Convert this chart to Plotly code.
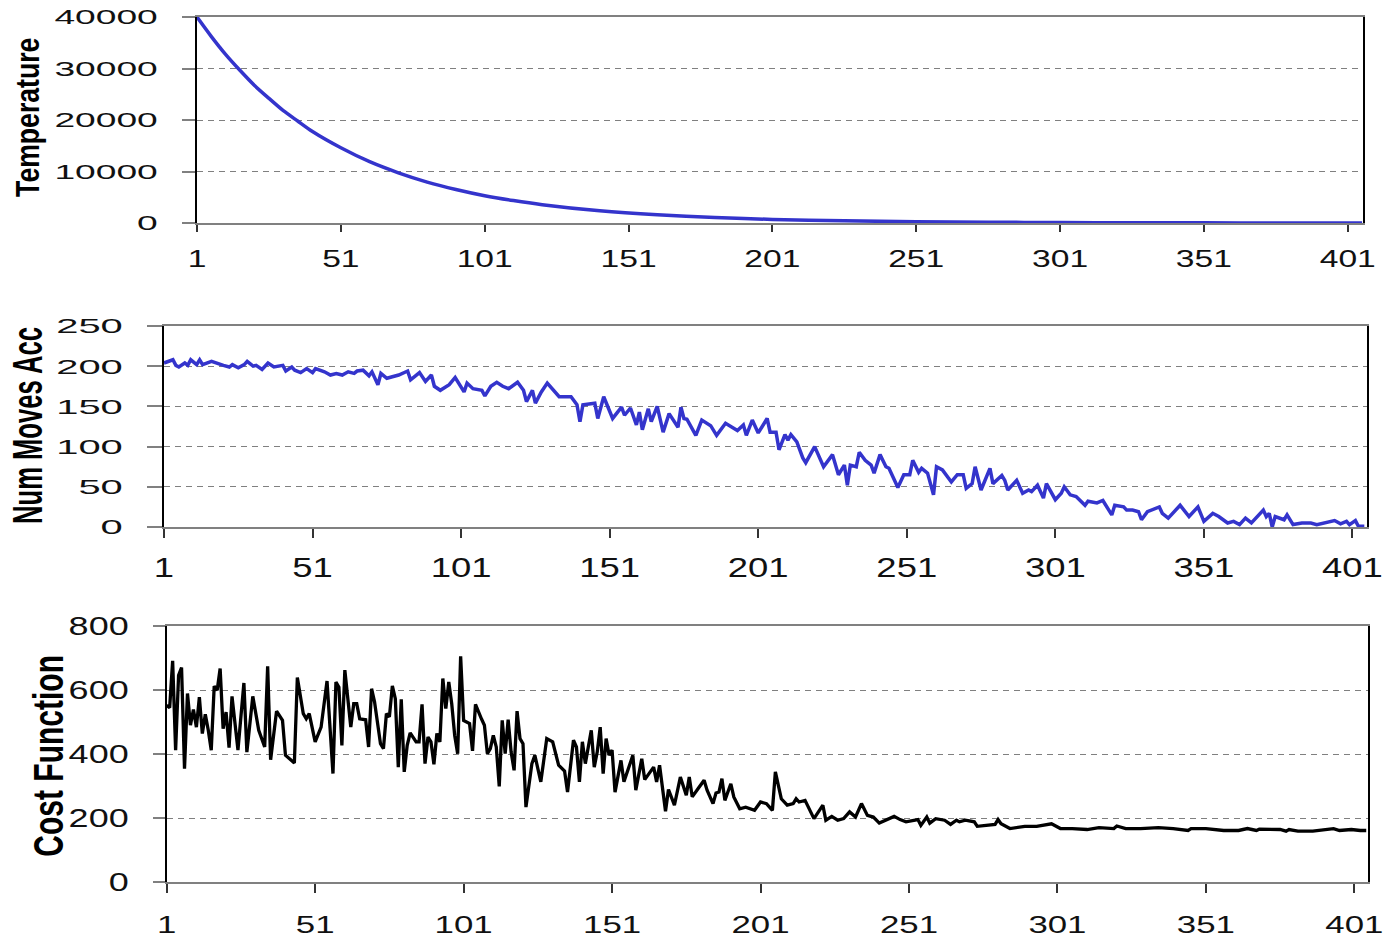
import plotly.graph_objects as go

# ---------------- data ----------------
TICK_VALS = [1, 51, 101, 151, 201, 251, 301, 351, 401]
TICK_LABELS = ["1", "51", "101", "151", "201", "251", "301", "351", "401"]

temp_iter = [1, 6, 11, 16, 21, 26, 31, 36, 41, 51, 61, 71, 81, 91, 101, 111, 121,
             141, 161, 181, 201, 226, 251, 276, 301, 326, 351, 376, 406]
temperature = [40000, 36200, 32700, 29600, 26700, 24200, 21800, 19800, 17800, 14600,
               11900, 9750, 7950, 6500, 5300, 4350, 3550, 2360, 1580, 1050, 700, 420,
               250, 150, 90, 55, 30, 20, 10]

moves_iter = [1, 4, 5, 6, 8, 9, 10, 12, 13, 14, 17, 19, 21, 23, 24, 26, 28, 29, 31, 32,
              34, 36, 38, 41, 42, 44, 45, 47, 49, 51, 52, 55, 57, 59, 61, 63, 65, 66, 68, 70,
              71, 73, 74, 76, 80, 83, 84, 87, 89, 91, 92, 94, 97, 99, 101, 102, 103, 105, 108, 109,
              111, 113, 115, 117, 120, 122, 123, 125, 126, 128, 130, 132, 134, 138, 140, 141, 142, 146, 147, 149,
              152, 155, 156, 158, 160, 161, 162, 164, 165, 167, 169, 171, 174, 175, 176, 177, 180, 182, 185, 187,
              190, 194, 196, 197, 199, 201, 204, 205, 207, 208, 210, 211, 212, 214, 216, 217, 219, 220, 223, 226,
              228, 230, 231, 232, 234, 235, 237, 239, 240, 242, 244, 245, 248, 250, 252, 253, 255, 256, 258, 260,
              261, 263, 266, 268, 270, 271, 273, 274, 276, 279, 280, 283, 284, 285, 288, 290, 292, 293, 295, 297,
              298, 301, 303, 304, 306, 308, 311, 312, 315, 317, 320, 321, 324, 325, 327, 329, 330, 332, 336, 337,
              339, 340, 343, 346, 349, 351, 354, 356, 359, 361, 363, 365, 367, 371, 372, 373, 374, 375, 378, 379,
              381, 384, 387, 389, 391, 395, 397, 399, 400, 402, 403, 405]
moves_acc = [204, 208, 201, 199, 204, 201, 208, 202, 208, 202, 206, 203, 201, 199, 202, 198, 202, 206, 200, 201,
             196, 204, 199, 201, 194, 199, 195, 192, 197, 192, 197, 193, 189, 191, 189, 193, 191, 194, 195, 188,
             193, 177, 191, 185, 189, 194, 183, 192, 181, 189, 175, 170, 177, 186, 175, 168, 179, 172, 170, 163,
             175, 180, 175, 172, 180, 170, 156, 170, 154, 168, 179, 170, 162, 162, 152, 131, 152, 154, 135, 162,
             135, 149, 139, 148, 127, 143, 121, 147, 131, 150, 118, 141, 124, 149, 135, 134, 114, 133, 126, 114,
             129, 120, 127, 114, 133, 117, 135, 118, 118, 96, 115, 108, 115, 106, 86, 80, 92, 100, 75, 90,
             65, 77, 52, 77, 75, 93, 83, 77, 67, 90, 75, 73, 49, 65, 65, 83, 68, 73, 67, 40,
             75, 71, 56, 65, 65, 48, 54, 75, 46, 73, 54, 64, 58, 46, 58, 42, 46, 44, 52, 36,
             54, 34, 42, 50, 40, 38, 27, 32, 30, 33, 15, 27, 25, 21, 21, 19, 9, 19, 25, 17,
             11, 15, 27, 13, 25, 7, 17, 13, 5, 7, 3, 11, 5, 21, 13, 17, 0, 13, 9, 15,
             3, 5, 5, 3, 5, 8, 4, 7, 3, 8, 1, 1]

cost_iter = [1, 2, 3, 4, 5, 6, 7, 8, 9, 10, 11, 12, 13, 14, 15, 16, 17, 18, 19, 20,
             21, 22, 23, 25, 27, 28, 30, 32, 34, 35, 36, 38, 40, 41, 44, 45, 47, 48, 49, 51,
             53, 55, 57, 58, 59, 60, 61, 63, 64, 65, 66, 68, 69, 70, 71, 73, 74, 75, 76, 77,
             78, 79, 80, 81, 82, 83, 85, 86, 87, 88, 89, 90, 91, 92, 93, 94, 95, 96, 97, 98,
             99, 100, 101, 103, 104, 105, 107, 108, 109, 110, 111, 112, 113, 114, 115, 116, 117, 118, 119, 120,
             121, 122, 124, 125, 127, 129, 131, 133, 135, 136, 138, 139, 140, 141, 142, 144, 145, 146, 147, 148,
             149, 150, 151, 152, 154, 155, 158, 159, 161, 162, 165, 166, 167, 169, 170, 172, 174, 176, 177, 178,
             180, 182, 183, 185, 186, 187, 188, 189, 191, 192, 194, 196, 199, 201, 203, 205, 206, 208, 210, 212,
             213, 214, 216, 219, 222, 223, 225, 227, 229, 231, 233, 235, 237, 239, 241, 244, 246, 248, 250, 254,
             255, 257, 258, 260, 263, 265, 267, 268, 270, 273, 274, 277, 280, 281, 282, 285, 290, 294, 299, 302,
             306, 311, 315, 320, 321, 324, 329, 335, 340, 345, 346, 351, 357, 362, 365, 368, 369, 376, 378, 379,
             382, 387, 394, 396, 400, 403, 405]
cost = [552, 545, 691, 412, 646, 670, 354, 589, 490, 539, 484, 578, 464, 524, 474, 412, 612, 599, 667, 479,
        531, 420, 580, 412, 622, 406, 580, 474, 422, 674, 382, 534, 505, 396, 372, 639, 526, 510, 526, 438,
        484, 628, 339, 625, 609, 427, 662, 484, 557, 557, 510, 507, 422, 604, 563, 432, 417, 526, 516, 613,
        573, 359, 571, 344, 427, 466, 438, 438, 555, 370, 453, 438, 368, 464, 438, 636, 542, 625, 557, 458,
        401, 705, 505, 495, 410, 555, 510, 490, 401, 417, 458, 422, 299, 505, 401, 507, 406, 349, 534, 448,
        432, 234, 370, 396, 313, 448, 438, 365, 347, 281, 443, 422, 313, 438, 370, 474, 359, 406, 484, 339,
        448, 396, 412, 281, 380, 313, 396, 287, 385, 320, 359, 313, 365, 221, 289, 240, 328, 271, 328, 266,
        292, 318, 287, 245, 278, 281, 323, 255, 307, 266, 229, 234, 224, 250, 245, 224, 344, 260, 240, 245,
        260, 250, 255, 198, 240, 193, 205, 193, 198, 219, 203, 245, 208, 203, 184, 195, 205, 195, 188, 195,
        177, 203, 184, 198, 193, 180, 193, 188, 193, 188, 174, 177, 180, 195, 182, 167, 174, 174, 182, 167,
        167, 164, 170, 167, 175, 167, 167, 170, 167, 161, 167, 167, 161, 161, 167, 161, 165, 164, 159, 164,
        159, 159, 167, 161, 164, 161, 161]

# ---------------- figure ----------------
W, H = 1384, 938
BLUE = "#3434CC"
GRID = "#808080"
FONT = "Liberation Sans, Arial, sans-serif"


def px_x(v):
    return v / W


def px_y(v):
    return 1 - v / H


fig = go.Figure()
fig.add_trace(go.Scatter(x=temp_iter, y=temperature, mode="lines", xaxis="x", yaxis="y",
                         line=dict(color=BLUE, width=3.5, shape="spline", smoothing=0.6),
                         showlegend=False, hoverinfo="skip"))
fig.add_trace(go.Scatter(x=moves_iter, y=moves_acc, mode="lines", xaxis="x2", yaxis="y2",
                         line=dict(color=BLUE, width=3.5), showlegend=False, hoverinfo="skip"))
fig.add_trace(go.Scatter(x=cost_iter, y=cost, mode="lines", xaxis="x3", yaxis="y3",
                         line=dict(color="#000000", width=3.3), showlegend=False, hoverinfo="skip"))


def xaxis(dom, anchor, font_size, ticklen, standoff, rng):
    return dict(domain=dom, anchor=anchor, range=rng, tickmode="array",
                tickvals=TICK_VALS, ticktext=TICK_LABELS, ticks="outside", ticklen=ticklen,
                tickwidth=1.5, tickcolor="#333333", showgrid=False, zeroline=False,
                showline=True, linecolor=GRID, linewidth=2, mirror=True,
                tickfont=dict(family=FONT, size=font_size, color="#111111"),
                ticklabelstandoff=standoff)


def yaxis(dom, anchor, rng, dtick, font_size, ticklen, standoff):
    return dict(domain=dom, anchor=anchor, range=rng, dtick=dtick, tick0=0, tickformat="d",
                ticks="outside", ticklen=ticklen, tickwidth=1.5, tickcolor=GRID,
                showgrid=True, gridcolor=GRID, gridwidth=1, griddash="6px,5px",
                zeroline=False, showline=True, linecolor="#000000", linewidth=2, mirror=True,
                tickfont=dict(family=FONT, size=font_size, color="#111111"),
                ticklabelstandoff=standoff)


fig.update_layout(
    width=W, height=H, margin=dict(l=0, r=0, t=0, b=0),
    paper_bgcolor="white", plot_bgcolor="white", template="none",
    xaxis=xaxis([px_x(197), px_x(1362.7)], "y", 24, 7, 6, [1, 406.2]),
    yaxis=yaxis([px_y(223), px_y(17)], "x", [0, 40000], 10000, 21, 13, 20),
    xaxis2=xaxis([px_x(164), px_x(1366.7)], "y2", 27, 9, 7, [1, 405.8]),
    yaxis2=yaxis([px_y(527), px_y(326)], "x2", [0, 250], 50, 21, 15, 20),
    xaxis3=xaxis([px_x(166.7), px_x(1368.3)], "y3", 24, 9, 11, [1, 405.7]),
    yaxis3=yaxis([px_y(882), px_y(626)], "x3", [0, 800], 200, 25, 12, 19),
    annotations=[
        dict(text="Temperature", x=px_x(28), y=px_y(118), xref="paper", yref="paper",
             xanchor="center", yanchor="middle", textangle=-90, showarrow=False,
             font=dict(family=FONT, size=33, color="#000000", weight="bold")),
        dict(text="Num Moves Acc", x=px_x(27), y=px_y(426), xref="paper", yref="paper",
             xanchor="center", yanchor="middle", textangle=-90, showarrow=False,
             font=dict(family=FONT, size=42, color="#000000", weight="bold")),
        dict(text="Cost Function", x=px_x(48), y=px_y(756), xref="paper", yref="paper",
             xanchor="center", yanchor="middle", textangle=-90, showarrow=False,
             font=dict(family=FONT, size=42, color="#000000", weight="bold")),
    ],
)

# The reference text is horizontally stretched; reproduce that with SVG textLength.
post = r"""
var gd = document.getElementById('{plot_id}');
document.documentElement.style.margin = '0px';
document.body.style.margin = '0px';
document.body.style.padding = '0px';
document.body.style.overflow = 'hidden';
function stretch(t, f) {
  var w = t.getComputedTextLength();
  t.setAttribute('textLength', (w * f).toFixed(2));
  t.setAttribute('lengthAdjust', 'spacingAndGlyphs');
}
var rules = [
  ['g.xtick text', 1.4], ['g.x2tick text', 1.35], ['g.x3tick text', 1.45],
  ['g.ytick text', 1.77], ['g.y2tick text', 1.9], ['g.y3tick text', 1.44],
  ['g.annotation[data-index="0"] text', 1/1.24],
  ['g.annotation[data-index="1"] text', 1/1.64],
  ['g.annotation[data-index="2"] text', 1/1.4]
];
rules.forEach(function(r) {
  gd.querySelectorAll(r[0]).forEach(function(t) { stretch(t, r[1]); });
});
"""

fig.write_html("out.html", post_script=post, config={"displayModeBar": False})
